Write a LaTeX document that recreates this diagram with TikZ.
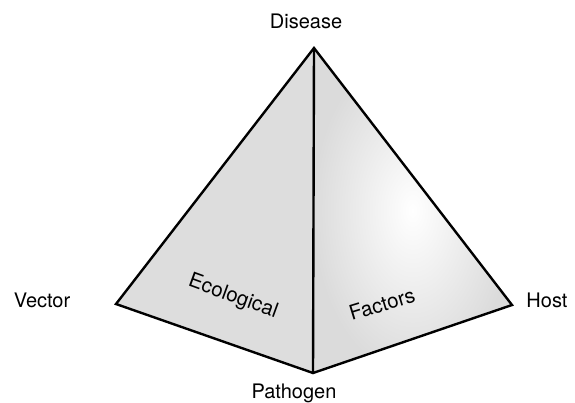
\documentclass[tikz,border=0pt]{standalone}
\usepackage{fontspec}
\setmainfont{TeX Gyre Heros}
\begin{document}
\begin{tikzpicture}[x=1pt,y=-1pt,
  lbl/.style={inner sep=0pt,anchor=base,font=\fontsize{20}{24}\selectfont},
  facelbl/.style={inner sep=0pt,font=\fontsize{20.5}{24}\selectfont},
  edge/.style={line width=2.4pt,line join=miter,line cap=round}]
\useasboundingbox (0,0) rectangle (575,402);
\coordinate (A) at (314,48);
\coordinate (V) at (116,304);
\coordinate (H) at (512,305);
\coordinate (P) at (313,373);
% faces
\fill[gray!27] (A) -- (V) -- (P) -- cycle;
\shade[inner color=white,outer color=gray!28,shading=radial] (A) -- (P) -- (H) -- cycle;
% edges
\draw[edge] (A) -- (V) -- (P) -- (H) -- cycle;
\draw[edge] (A) -- (P);
% labels
\node[lbl] (dis) at (306,28) {Disease};
\node[lbl] (vec) at (42,307) {Vector};
\node[lbl] (hos) at (547,307) {Host};
\node[lbl] (pat) at (294,398) {Pathogen};
\node[facelbl,rotate=-20] (eco) at (233,297) {Ecological};
\node[facelbl,rotate=17] (fac) at (382,304) {Factors};
\end{tikzpicture}
\end{document}
